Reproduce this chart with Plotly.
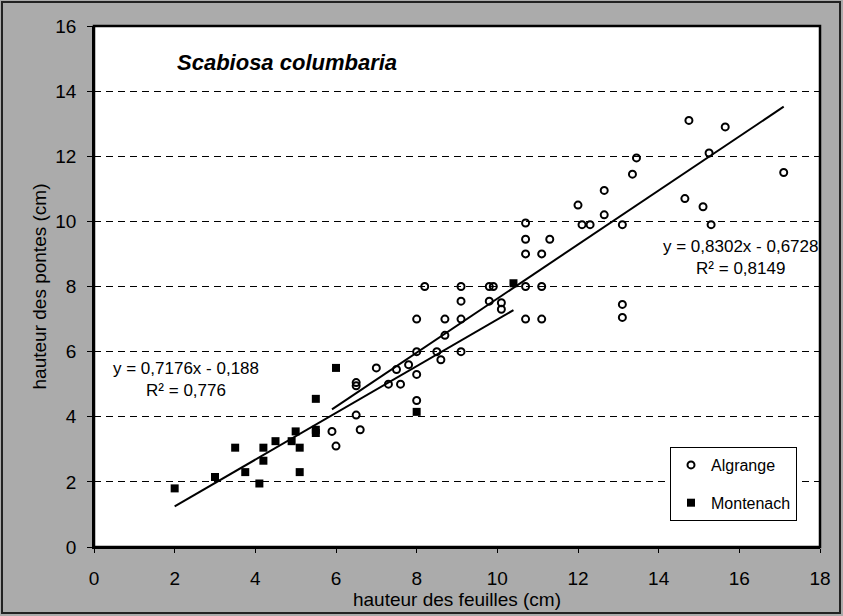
import plotly.graph_objects as go

# Algrange measurements (leaf height, laying height) in cm
alg_x = [5.9, 6.0, 6.5, 6.5, 6.5, 6.6, 7.0, 7.3, 7.5, 7.6, 7.8, 8.0, 8.0, 8.0, 8.0,
         8.2, 8.5, 8.6, 8.7, 8.7, 9.1, 9.1, 9.1, 9.1, 9.8, 9.9, 9.8, 10.1, 10.1,
         10.7, 10.7, 10.7, 10.7, 10.7, 11.1, 11.1, 11.1, 11.3, 12.0, 12.1, 12.3,
         12.65, 12.65, 13.1, 13.1, 13.1, 13.35, 13.45, 14.65, 14.75, 15.1, 15.25,
         15.3, 15.65, 17.1]
alg_y = [3.55, 3.1, 5.05, 4.95, 4.05, 3.6, 5.5, 5.0, 5.45, 5.0, 5.6, 5.3, 6.0, 4.5, 7.0,
         8.0, 6.0, 5.75, 6.5, 7.0, 8.0, 7.55, 7.0, 6.0, 8.0, 8.0, 7.55, 7.5, 7.3,
         9.95, 9.45, 9.0, 8.0, 7.0, 9.0, 8.0, 7.0, 9.45, 10.5, 9.9, 9.9,
         10.95, 10.2, 9.9, 7.45, 7.05, 11.45, 11.95, 10.7, 13.1, 10.45, 12.1,
         9.9, 12.9, 11.5]

# Montenach measurements
mon_x = [2.0, 3.0, 3.5, 3.75, 4.1, 4.2, 4.2, 4.5, 4.9, 5.0, 5.1, 5.1, 5.5, 5.5, 5.5,
         6.0, 8.0, 10.4]
mon_y = [1.8, 2.15, 3.05, 2.3, 1.95, 2.65, 3.05, 3.25, 3.25, 3.55, 3.05, 2.3, 3.5, 3.6,
         4.55, 5.5, 4.15, 8.1]

# Linear trend coefficients (slope, intercept) and R²
alg_fit = (0.8302, -0.6728, 0.8149)
mon_fit = (0.7176, -0.188, 0.776)

series_names = ["Algrange", "Montenach"]
x_ticks = [0, 2, 4, 6, 8, 10, 12, 14, 16, 18]
y_ticks = [0, 2, 4, 6, 8, 10, 12, 14, 16]

FONT = "Arial, Liberation Sans, sans-serif"
W, H = 843, 616
ML, MR, MT, MB = 94, 23, 26, 69
PW, PH = W - ML - MR, H - MT - MB


def dec(v):
    return str(v).replace(".", ",")


def trend(xs, fit):
    a, b, _ = fit
    x0, x1 = min(xs), max(xs)
    return [x0, x1], [a * x0 + b, a * x1 + b]


def eq_text(fit):
    a, b, r2 = fit
    sign = "-" if b < 0 else "+"
    return f"y = {dec(a)}x {sign} {dec(abs(b))}<br>R² = {dec(r2)}"


fig = go.Figure()

fig.add_trace(go.Scatter(
    x=alg_x, y=alg_y, mode="markers", name=series_names[0], legendgroup="a",
    marker=dict(symbol="circle-open", size=7, color="black", line=dict(width=2, color="black")),
))
fig.add_trace(go.Scatter(
    x=mon_x, y=mon_y, mode="markers", name=series_names[1], legendgroup="m",
    marker=dict(symbol="square", size=8, color="black"),
))

for xs, fit in ((alg_x, alg_fit), (mon_x, mon_fit)):
    tx, ty = trend(xs, fit)
    fig.add_trace(go.Scatter(x=tx, y=ty, mode="lines", showlegend=False,
                             line=dict(color="black", width=2), hoverinfo="skip"))

annotations = [
    dict(text="<b><i>Scabiosa columbaria</i></b>", xref="paper", yref="paper",
         x=(175 - ML) / PW, y=1 - (62 - MT) / PH, xanchor="left", yanchor="middle",
         showarrow=False, font=dict(family=FONT, size=22, color="black")),
    dict(text=eq_text(mon_fit), x=2.27, y=5.13, xanchor="center", yanchor="middle",
         showarrow=False, align="center", font=dict(family=FONT, size=17, color="black")),
    dict(text=eq_text(alg_fit), x=16.03, y=8.89, xanchor="center", yanchor="middle",
         showarrow=False, align="center", font=dict(family=FONT, size=17, color="black")),
]

shapes = [
    # outer frame of the chart
    dict(type="rect", xref="paper", yref="paper",
         x0=-(ML - 2) / PW, x1=1 + (MR - 3) / PW, y0=-(MB - 3) / PH, y1=1 + (MT - 2) / PH,
         line=dict(color="#222", width=2), layer="below"),
    # plot area border
    dict(type="rect", xref="paper", yref="paper", x0=0, x1=1, y0=0, y1=1,
         line=dict(color="black", width=2.5)),
]

fig.update_layout(
    width=W, height=H,
    margin=dict(l=ML, r=MR, t=MT, b=MB),
    paper_bgcolor="#ababab", plot_bgcolor="white",
    font=dict(family=FONT, size=19, color="black"),
    showlegend=True,
    legend=dict(x=(797 - ML) / PW, y=1 - (447 - MT) / PH, xanchor="right", yanchor="top",
                bgcolor="white", bordercolor="black", borderwidth=1, itemwidth=30,
                font=dict(family=FONT, size=16, color="black"), tracegroupgap=14),
    annotations=annotations, shapes=shapes,
)

fig.update_xaxes(
    range=[0, 18], tickvals=x_ticks, ticktext=[str(v) for v in x_ticks],
    showgrid=False, zeroline=False, showline=True, linecolor="black", linewidth=1.5,
    ticks="outside", ticklen=4, tickcolor="black", ticklabelstandoff=9,
    tickfont=dict(size=19),
    title=dict(text="hauteur des feuilles (cm)", font=dict(size=19), standoff=0),
)
fig.update_yaxes(
    range=[0, 16], tickvals=y_ticks, ticktext=[str(v) for v in y_ticks],
    showgrid=True, gridcolor="black", gridwidth=1, griddash="7px,5px",
    zeroline=False, showline=True, linecolor="black", linewidth=1.5,
    ticks="outside", ticklen=5, tickcolor="black", ticklabelstandoff=7,
    tickfont=dict(size=19),
    title=dict(text="hauteur des pontes (cm)", font=dict(size=19), standoff=4),
)

fig.write_html("out.html")
